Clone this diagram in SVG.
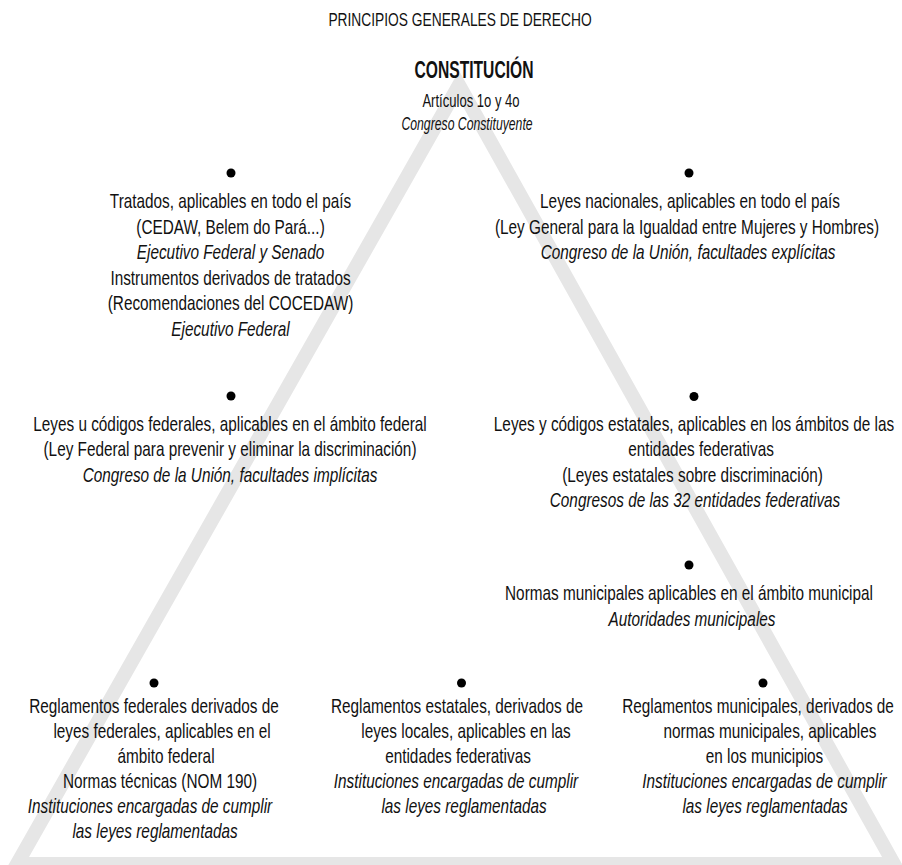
<svg xmlns="http://www.w3.org/2000/svg" width="902" height="865" viewBox="0 0 902 865">
<style>
text{font-family:"Liberation Sans",Arial,sans-serif;fill:#111;text-anchor:middle}
.b{font-size:21px}
.i{font-size:21px;font-style:italic}
.t{font-size:18.5px}
.h{font-size:23px;font-weight:bold}
.s{font-size:18px}
.si{font-size:18px;font-style:italic}
.dot{fill:#000}
</style>
<g id="triangle">
<polygon points="459,85 17,864 894,864" fill="none" stroke="#e6e6e6" stroke-width="14" stroke-linejoin="miter"/>
</g>
<g id="connectors"></g>
<g id="title"><text class="t" transform="translate(460 0) scale(0.745 1)" y="26.5">PRINCIPIOS GENERALES DE DERECHO</text></g>
<g id="constitucion">
<text class="h" transform="translate(474 0) scale(0.68 1)" y="78.5">CONSTITUCIÓN</text>
<text class="s" transform="translate(471 0) scale(0.725 1)" y="107.5">Artículos 1o y 4o</text>
<text class="si" transform="translate(467 0) scale(0.68 1)" y="130.5">Congreso Constituyente</text>
</g>
<g id="tratados">
<circle class="dot" cx="231" cy="173" r="4.5"/>
<text class="b" transform="translate(230.5 0) scale(0.73 1)" y="208.5">Tratados, aplicables en todo el país</text>
<text class="b" transform="translate(230.5 0) scale(0.73 1)" y="234">(CEDAW, Belem do Pará...)</text>
<text class="i" transform="translate(230.5 0) scale(0.73 1)" y="259.5">Ejecutivo Federal y Senado</text>
<text class="b" transform="translate(230.5 0) scale(0.73 1)" y="285">Instrumentos derivados de tratados</text>
<text class="b" transform="translate(230.5 0) scale(0.73 1)" y="310.5">(Recomendaciones del COCEDAW)</text>
<text class="i" transform="translate(230.5 0) scale(0.73 1)" y="336">Ejecutivo Federal</text>
</g>
<g id="leyes-nacionales">
<circle class="dot" cx="689" cy="173" r="4.5"/>
<text class="b" transform="translate(690 0) scale(0.73 1)" y="208.5">Leyes nacionales, aplicables en todo el país</text>
<text class="b" transform="translate(687 0) scale(0.73 1)" y="234">(Ley General para la Igualdad entre Mujeres y Hombres)</text>
<text class="i" transform="translate(688 0) scale(0.73 1)" y="259.5">Congreso de la Unión, facultades explícitas</text>
</g>
<g id="leyes-federales">
<circle class="dot" cx="231" cy="396" r="4.5"/>
<text class="b" transform="translate(230 0) scale(0.73 1)" y="431">Leyes u códigos federales, aplicables en el ámbito federal</text>
<text class="b" transform="translate(230 0) scale(0.73 1)" y="456.5">(Ley Federal para prevenir y eliminar la discriminación)</text>
<text class="i" transform="translate(230 0) scale(0.73 1)" y="482">Congreso de la Unión, facultades implícitas</text>
</g>
<g id="leyes-estatales">
<circle class="dot" cx="694" cy="396.5" r="4.5"/>
<text class="b" transform="translate(694 0) scale(0.73 1)" y="431">Leyes y códigos estatales, aplicables en los ámbitos de las</text>
<text class="b" transform="translate(701 0) scale(0.73 1)" y="456.5">entidades federativas</text>
<text class="b" transform="translate(692.5 0) scale(0.73 1)" y="482">(Leyes estatales sobre discriminación)</text>
<text class="i" transform="translate(695 0) scale(0.73 1)" y="507.5">Congresos de las 32 entidades federativas</text>
</g>
<g id="normas-municipales">
<circle class="dot" cx="689" cy="565" r="4.5"/>
<text class="b" transform="translate(689 0) scale(0.73 1)" y="600.5">Normas municipales aplicables en el ámbito municipal</text>
<text class="i" transform="translate(692 0) scale(0.73 1)" y="626">Autoridades municipales</text>
</g>
<g id="reglamentos-federales">
<circle class="dot" cx="154" cy="683" r="4.5"/>
<text class="b" transform="translate(154 0) scale(0.73 1)" y="713">Reglamentos federales derivados de</text>
<text class="b" transform="translate(162 0) scale(0.73 1)" y="738">leyes federales, aplicables en el</text>
<text class="b" transform="translate(166 0) scale(0.73 1)" y="763">ámbito federal</text>
<text class="b" transform="translate(160 0) scale(0.73 1)" y="788">Normas técnicas (NOM 190)</text>
<text class="i" transform="translate(150 0) scale(0.73 1)" y="813">Instituciones encargadas de cumplir</text>
<text class="i" transform="translate(155 0) scale(0.73 1)" y="838">las leyes reglamentadas</text>
</g>
<g id="reglamentos-estatales">
<circle class="dot" cx="461.5" cy="683" r="4.5"/>
<text class="b" transform="translate(457 0) scale(0.73 1)" y="713">Reglamentos estatales, derivados de</text>
<text class="b" transform="translate(466 0) scale(0.73 1)" y="738">leyes locales, aplicables en las</text>
<text class="b" transform="translate(458 0) scale(0.73 1)" y="763">entidades federativas</text>
<text class="i" transform="translate(456 0) scale(0.73 1)" y="788">Instituciones encargadas de cumplir</text>
<text class="i" transform="translate(464 0) scale(0.73 1)" y="813">las leyes reglamentadas</text>
</g>
<g id="reglamentos-municipales">
<circle class="dot" cx="763" cy="683" r="4.5"/>
<text class="b" transform="translate(758 0) scale(0.73 1)" y="713">Reglamentos municipales, derivados de</text>
<text class="b" transform="translate(770 0) scale(0.73 1)" y="738">normas municipales, aplicables</text>
<text class="b" transform="translate(764.5 0) scale(0.73 1)" y="763">en los municipios</text>
<text class="i" transform="translate(764.5 0) scale(0.73 1)" y="788">Instituciones encargadas de cumplir</text>
<text class="i" transform="translate(765 0) scale(0.73 1)" y="813">las leyes reglamentadas</text>
</g>
</svg>
